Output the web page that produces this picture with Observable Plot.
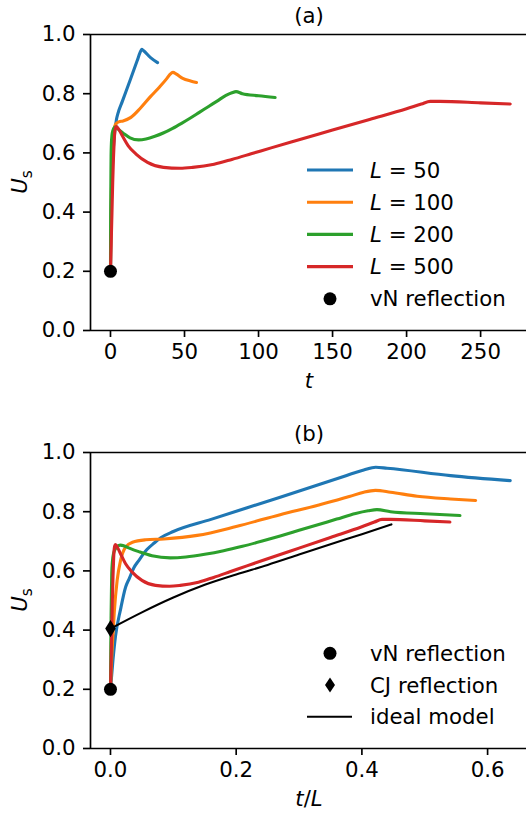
<!DOCTYPE html>
<html><head><meta charset="utf-8">
<script src="https://cdn.jsdelivr.net/npm/d3@7"></script>
<script src="https://cdn.jsdelivr.net/npm/@observablehq/plot@0.6"></script>
<style>
html,body{margin:0;padding:0;background:#fff;overflow:hidden}
#wrap{width:526px}
#wrap svg{display:block}
</style></head><body><div id="wrap"></div>
<script>
// ---------- data ----------
const lengths = [50, 100, 200, 500];
const colors = ["#1f77b4", "#ff7f0e", "#2ca02c", "#d62728"];

// L = 50
const t50 = [0, 0.2, 0.4, 0.8, 1.2, 1.5, 1.85, 2.25, 2.9, 3.5, 4.0, 5.0, 8.0, 13.5, 18.0, 20.15, 21.1, 22.0, 27.05, 31.8];
const u50 = [0.2, 0.30, 0.38, 0.47, 0.545, 0.575, 0.61, 0.635, 0.672, 0.695, 0.712, 0.733, 0.774, 0.849, 0.911, 0.941, 0.950, 0.947, 0.922, 0.905];
// L = 100
const t100 = [0, 0.1, 0.3, 0.6, 1.06, 1.6, 2.4, 3.5, 5.6, 8.5, 13.8, 20, 27, 33, 38, 40.3, 42.16, 44.55, 48.8, 54.1, 58.1];
const u100 = [0.2, 0.26, 0.35, 0.46, 0.568, 0.635, 0.68, 0.697, 0.705, 0.708, 0.72, 0.75, 0.79, 0.822, 0.851, 0.866, 0.872, 0.866, 0.852, 0.843, 0.838];
// L = 200
const t200 = [0, 0.1, 0.2, 0.3, 0.4, 0.6, 1.0, 1.6, 2.5, 3.2, 4.4, 6.0, 9.0, 13.2, 19.0, 24.0, 30.0, 36.0, 42.0, 48.0, 54.0, 60.0, 66.0, 72.0, 78.0, 82.0, 84.8, 89.1, 100, 111.2];
const u200 = [0.2, 0.35, 0.45, 0.53, 0.59, 0.63, 0.66, 0.675, 0.685, 0.687, 0.684, 0.677, 0.665, 0.651, 0.644, 0.647, 0.656, 0.668, 0.683, 0.700, 0.718, 0.737, 0.756, 0.775, 0.794, 0.803, 0.807, 0.80, 0.793, 0.787];
// L = 500
const t500 = [0, 0.5, 1, 1.5, 2, 2.5, 3, 3.5, 4, 5.5, 8, 12, 17.25, 25, 35.8, 47, 55.5, 70, 82, 95, 108.5, 125, 150, 175, 200, 210, 216, 222.5, 250, 270];
const u500 = [0.2, 0.3, 0.4, 0.5, 0.58, 0.64, 0.675, 0.686, 0.689, 0.68, 0.658, 0.624, 0.596, 0.568, 0.551, 0.548, 0.551, 0.562, 0.578, 0.597, 0.617, 0.641, 0.677, 0.713, 0.749, 0.765, 0.774, 0.774, 0.769, 0.765];

// ideal model (panel b, in t/L)
const idealTL = [0, 0.05, 0.1, 0.15, 0.2, 0.25, 0.3, 0.35, 0.4, 0.447];
const idealU = [0.405, 0.46, 0.51, 0.553, 0.588, 0.62, 0.655, 0.69, 0.724, 0.757];

// reflection points
const vN = {x: 0, u: 0.2};
const CJ = {x: 0, u: 0.405};

// ticks
const yTicks = [0, 0.2, 0.4, 0.6, 0.8, 1.0];
const xTicksA = [0, 50, 100, 150, 200, 250];
const xTicksB = [0, 0.2, 0.4, 0.6];

const tArrays = [t50, t100, t200, t500];
const uArrays = [u50, u100, u200, u500];

// ---------- build rows ----------
const rows = [];
lengths.forEach((L, i) => {
  tArrays[i].forEach((t, j) => rows.push({L, t, tl: t / L, u: uArrays[i][j]}));
});
const idealRows = idealTL.map((x, i) => ({x, u: idealU[i]}));

const FONT = "DejaVu Sans";
const FS = 21.3;
const LW = 3.1;
const SW = 1.67;

const thinDiamond = {
  draw(ctx) {
    ctx.moveTo(0, -8.7); ctx.lineTo(5.3, 0); ctx.lineTo(0, 8.7); ctx.lineTo(-5.3, 0); ctx.closePath();
  }
};

function makePanel({xKey, xDomain, xTicks, xFmt, height, marginTop, marginBottom, ideal}) {
  const marks = [
    Plot.ruleY([0, 1], {stroke: "black", strokeWidth: SW}),
    Plot.ruleX([xDomain[0]], {stroke: "black", strokeWidth: SW}),
    Plot.axisX({ticks: xTicks, tickFormat: xFmt, tickSize: 7, tickPadding: 6, label: null, stroke: "black", strokeWidth: SW, fill: "black"}),
    Plot.axisY({ticks: yTicks, tickFormat: d3.format(".1f"), tickSize: 7, tickPadding: 8, label: null, stroke: "black", strokeWidth: SW, fill: "black"})
  ];
  lengths.forEach((L, i) => {
    marks.push(Plot.line(rows.filter(r => r.L === L), {x: xKey, y: "u", stroke: colors[i], strokeWidth: LW, curve: "monotone-x"}));
  });
  if (ideal) {
    marks.push(Plot.line(idealRows, {x: "x", y: "u", stroke: "black", strokeWidth: 2.1, curve: "monotone-x"}));
  }
  marks.push(Plot.dot([vN], {x: "x", y: "u", r: 6.5, fill: "black", stroke: "none"}));
  if (ideal) {
    marks.push(Plot.dot([CJ], {x: "x", y: "u", symbol: thinDiamond, fill: "black", stroke: "none"}));
  }
  return Plot.plot({
    width: 526, height, marginLeft: 90, marginRight: 0, marginTop, marginBottom,
    x: {domain: xDomain},
    y: {domain: [0, 1]},
    style: {fontFamily: FONT, fontSize: FS + "px", color: "black", background: "white", overflow: "hidden"},
    marks
  });
}

const wrap = document.getElementById("wrap");

const chartA = makePanel({xKey: "t", xDomain: [-13.5, 281.0], xTicks: xTicksA, xFmt: d3.format("d"), height: 409, marginTop: 34, marginBottom: 79, ideal: false});
const chartB = makePanel({xKey: "tl", xDomain: [-0.0318, 0.6619], xTicks: xTicksB, xFmt: d3.format(".1f"), height: 408, marginTop: 43, marginBottom: 69, ideal: true});
wrap.appendChild(chartA);
wrap.appendChild(chartB);

// ---------- annotations ----------
function addText(svg, x, y, parts, opts = {}) {
  const t = svg.append("text").attr("x", x).attr("y", y)
    .attr("font-family", FONT).attr("font-size", FS).attr("fill", "black")
    .attr("text-anchor", opts.anchor || "start");
  if (opts.transform) t.attr("transform", opts.transform).attr("x", 0).attr("y", 0);
  parts.forEach(p => {
    const s = t.append("tspan").text(p.text);
    if (p.italic) s.attr("font-style", "italic");
    if (p.size) s.attr("font-size", p.size);
    if (p.dy) s.attr("dy", p.dy);
  });
  return t;
}
function ylabel(svg, cy) {
  addText(svg, 0, 0, [{text: "U", italic: true}, {text: "s", size: FS * 0.72, dy: 5}], {anchor: "middle", transform: `translate(27,${cy}) rotate(-90)`});
}

const sA = d3.select(chartA);
addText(sA, 309, 23, [{text: "(a)"}], {anchor: "middle"});
addText(sA, 309, 388, [{text: "t", italic: true}], {anchor: "middle"});
ylabel(sA, 182);
const legA = [170, 202.2, 234.4, 266.6];
lengths.forEach((L, i) => {
  sA.append("line").attr("x1", 307).attr("x2", 353).attr("y1", legA[i]).attr("y2", legA[i])
    .attr("stroke", colors[i]).attr("stroke-width", LW);
  addText(sA, 370, legA[i] + 7.5, [{text: "L", italic: true}, {text: " = " + L}]);
});
sA.append("circle").attr("cx", 330).attr("cy", 298.8).attr("r", 6.5).attr("fill", "black");
addText(sA, 370, 298.8 + 7.5, [{text: "vN reflection"}]);

const sB = d3.select(chartB);
addText(sB, 309, 32, [{text: "(b)"}], {anchor: "middle"});
addText(sB, 309, 397, [{text: "t", italic: true}, {text: "/"}, {text: "L", italic: true}], {anchor: "middle"});
ylabel(sB, 191);
sB.append("circle").attr("cx", 330).attr("cy", 244.3).attr("r", 6.5).attr("fill", "black");
addText(sB, 370, 244.3 + 7.5, [{text: "vN reflection"}]);
sB.append("path").attr("d", "M330,268.5L335,276L330,283.5L325,276Z").attr("fill", "black");
addText(sB, 370, 276 + 7.5, [{text: "CJ reflection"}]);
sB.append("line").attr("x1", 307).attr("x2", 352).attr("y1", 307.7).attr("y2", 307.7).attr("stroke", "black").attr("stroke-width", 2.1);
addText(sB, 370, 307.7 + 7.5, [{text: "ideal model"}]);
</script>
</body></html>
